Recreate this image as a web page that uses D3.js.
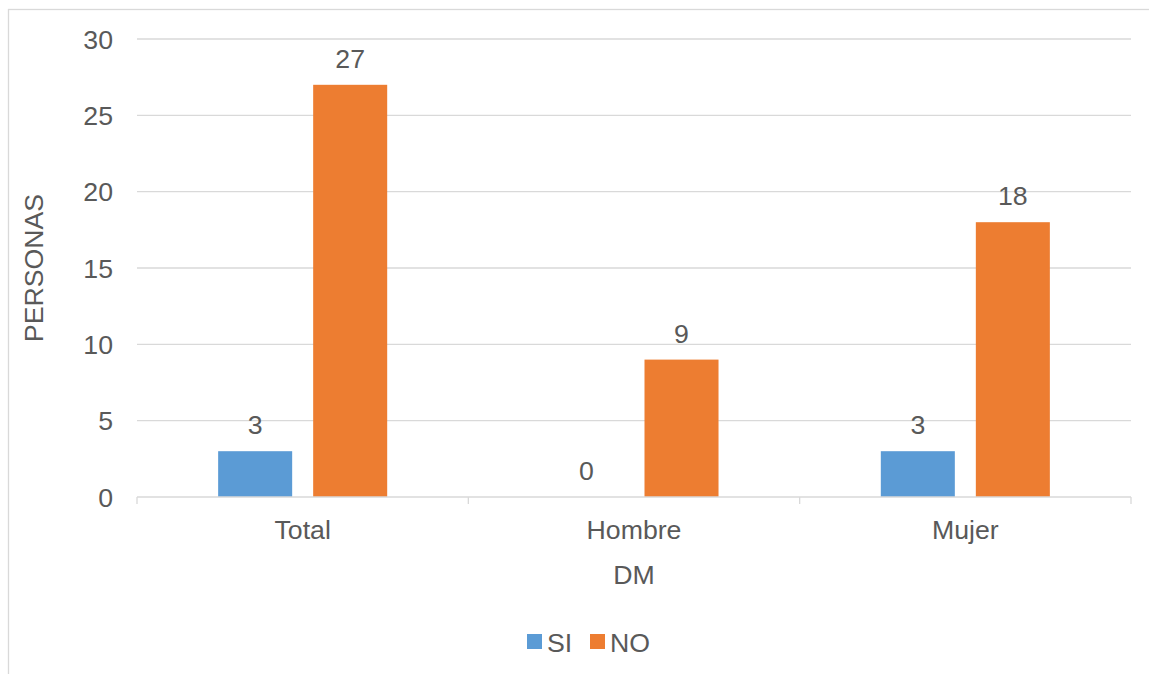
<html>
<head>
<meta charset="utf-8">
<title>DM</title>
<style>
  body { margin: 0; background: #fff; }
  text { font-family: "Liberation Sans", Arial, sans-serif; fill: #595959; }
</style>
</head>
<body>
<script src="https://d3js.org/d3.v7.min.js"></script>
<script>
    // データ
    var categories = ["Total", "Hombre", "Mujer"];
    var seriesNames = ["SI", "NO"];
    var siValues = [3, 0, 3];
    var noValues = [27, 9, 18];
    var yTicks = [0, 5, 10, 15, 20, 25, 30];
    var colors = ["#5b9bd5", "#ed7d31"];

    var width = 1149, height = 674;
    var plot = { left: 137, right: 1131, top: 39, bottom: 497 };
    var fs = "26.7px";

    var svg = d3.select("body").append("svg")
        .attr("width", width)
        .attr("height", height);

    // 枠線
    svg.append("rect")
        .attr("x", 8.5).attr("y", 9.5)
        .attr("width", 1160).attr("height", 700)
        .style("fill", "none").style("stroke", "#d9d9d9").style("stroke-width", 1.3);

    var x0 = d3.scaleBand()
        .domain(categories)
        .range([plot.left, plot.right]);

    var x1 = d3.scaleBand()
        .domain(seriesNames)
        .range([0, x0.bandwidth()])
        .paddingInner(0.221)
        .paddingOuter(0.854);

    var yScale = d3.scaleLinear()
        .domain([0, 30])
        .range([plot.bottom, plot.top]);

    // グリッド線
    svg.selectAll(".grid")
        .data(yTicks.filter(function(d) { return d > 0; }))
        .enter().append("line")
        .attr("x1", plot.left).attr("x2", plot.right)
        .attr("y1", function(d) { return yScale(d); })
        .attr("y2", function(d) { return yScale(d); })
        .style("stroke", "#d9d9d9").style("stroke-width", 1.3);

    // Y軸ラベル
    svg.selectAll(".ylabel")
        .data(yTicks)
        .enter().append("text")
        .attr("x", 113)
        .attr("y", function(d) { return yScale(d) + 9.5; })
        .style("text-anchor", "end")
        .style("font-size", fs)
        .text(function(d) { return d; });

    var rows = [];
    categories.forEach(function(c, i) {
        rows.push({ cat: c, s: "SI", v: siValues[i], color: colors[0] });
        rows.push({ cat: c, s: "NO", v: noValues[i], color: colors[1] });
    });

    // 棒グラフ
    svg.selectAll(".bar")
        .data(rows)
        .enter().append("rect")
        .attr("x", function(d) { return x0(d.cat) + x1(d.s); })
        .attr("y", function(d) { return yScale(d.v); })
        .attr("width", x1.bandwidth())
        .attr("height", function(d) { return yScale(0) - yScale(d.v); })
        .style("fill", function(d) { return d.color; });

    // 数値ラベル
    svg.selectAll(".val")
        .data(rows)
        .enter().append("text")
        .attr("x", function(d) { return x0(d.cat) + x1(d.s) + x1.bandwidth() / 2; })
        .attr("y", function(d) { return yScale(d.v) - 17; })
        .style("text-anchor", "middle")
        .style("font-size", fs)
        .text(function(d) { return d.v; });

    // X軸
    var xAxis = d3.axisBottom(x0).tickSize(0).tickPadding(23);
    var gx = svg.append("g")
        .attr("transform", "translate(0," + plot.bottom + ")")
        .call(xAxis);
    gx.select(".domain").remove();
    gx.selectAll("text")
        .style("font-size", fs)
        .style("font-family", "'Liberation Sans', Arial, sans-serif")
        .attr("fill", "#595959");

    svg.append("line")
        .attr("x1", plot.left).attr("x2", plot.right)
        .attr("y1", plot.bottom).attr("y2", plot.bottom)
        .style("stroke", "#d9d9d9").style("stroke-width", 1.3);

    var sep = [plot.left].concat(categories.map(function(c) { return x0(c) + x0.bandwidth(); }));
    svg.selectAll(".sep")
        .data(sep)
        .enter().append("line")
        .attr("x1", function(d) { return d; }).attr("x2", function(d) { return d; })
        .attr("y1", plot.bottom).attr("y2", plot.bottom + 7)
        .style("stroke", "#d9d9d9").style("stroke-width", 1.3);

    // 軸タイトル
    svg.append("text")
        .attr("transform", "translate(43,268) rotate(-90)")
        .style("text-anchor", "middle")
        .style("font-size", fs)
        .text("PERSONAS");

    svg.append("text")
        .attr("x", 634).attr("y", 584)
        .style("text-anchor", "middle")
        .style("font-size", fs)
        .text("DM");

    // 凡例
    var legendX = [527, 590];
    var lg = svg.selectAll(".legend")
        .data(seriesNames)
        .enter().append("g")
        .attr("transform", function(d, i) { return "translate(" + legendX[i] + ",634)"; });
    lg.append("rect")
        .attr("width", 15).attr("height", 15)
        .style("fill", function(d, i) { return colors[i]; });
    lg.append("text")
        .attr("x", 20).attr("y", 18)
        .style("font-size", fs)
        .text(function(d) { return d; });
</script>
</body>
</html>
